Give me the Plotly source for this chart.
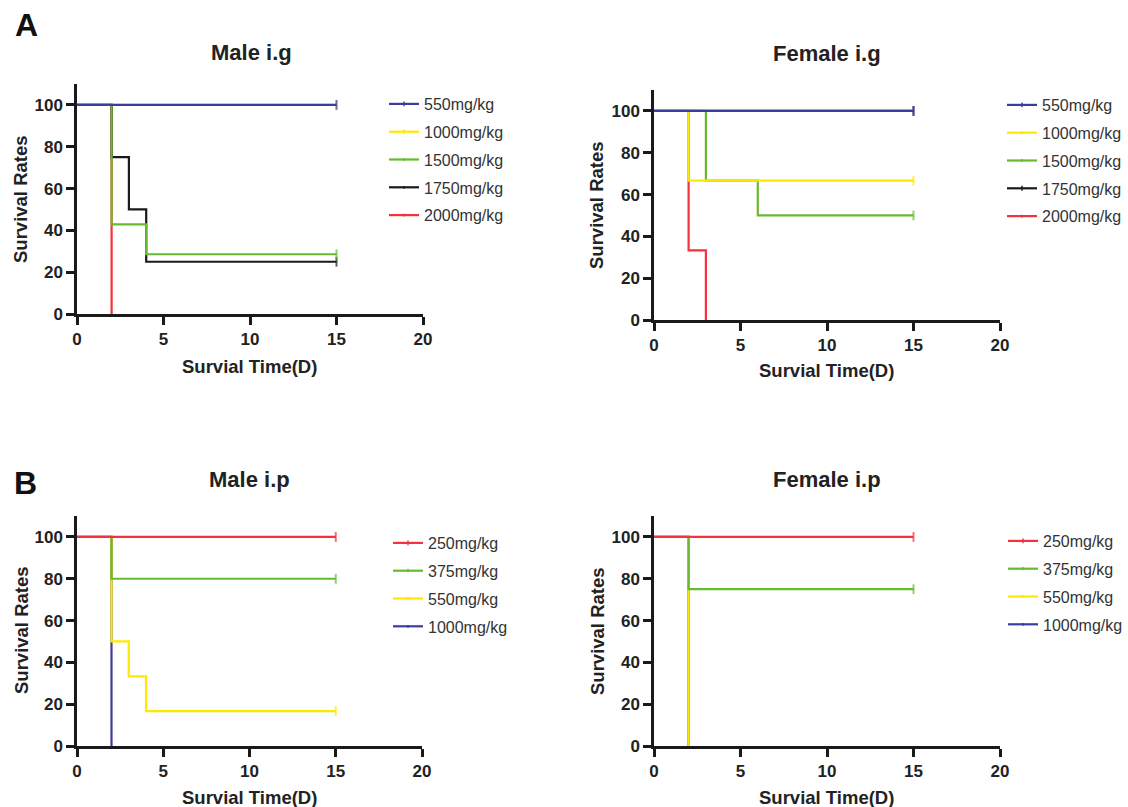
import plotly.graph_objects as go

# ---------------- data ----------------
# Male i.g
male_ig_doses = ["550mg/kg", "1000mg/kg", "1500mg/kg", "1750mg/kg", "2000mg/kg"]
male_ig_times = [[0, 15], [0, 15], [0, 2, 4, 15], [0, 2, 3, 4, 15], [0, 2]]
male_ig_surv = [[100, 100], [100, 100], [100, 42.86, 28.57, 28.57], [100, 75, 50, 25, 25], [100, 0]]

# Female i.g
female_ig_doses = ["550mg/kg", "1000mg/kg", "1500mg/kg", "1750mg/kg", "2000mg/kg"]
female_ig_times = [[0, 15], [0, 2, 15], [0, 3, 6, 15], [0, 15], [0, 2, 3]]
female_ig_surv = [[100, 100], [100, 66.67, 66.67], [100, 66.67, 50, 50], [100, 100], [100, 33.33, 0]]

# Male i.p
male_ip_doses = ["250mg/kg", "375mg/kg", "550mg/kg", "1000mg/kg"]
male_ip_times = [[0, 15], [0, 2, 15], [0, 2, 3, 4, 15], [0, 2]]
male_ip_surv = [[100, 100], [100, 80, 80], [100, 50, 33.33, 16.67, 16.67], [100, 0]]

# Female i.p
female_ip_doses = ["250mg/kg", "375mg/kg", "550mg/kg", "1000mg/kg"]
female_ip_times = [[0, 15], [0, 2, 15], [0, 2], [0, 2]]
female_ip_surv = [[100, 100], [100, 75, 75], [100, 0], [100, 0]]

x_ticks = [0, 5, 10, 15, 20]
y_ticks = [0, 20, 40, 60, 80, 100]

# ---------------- style ----------------
W, H = 1128, 807
FONT = "Arial, Liberation Sans, sans-serif"
BLUE, YELLOW, GREEN, BLACK, RED = "#3c3c9e", "#ffe800", "#66bb2e", "#1a1a1a", "#f2323c"
ig_colors = [BLUE, YELLOW, GREEN, BLACK, RED]
ip_colors = [RED, GREEN, YELLOW, BLUE]

# draw order (indices into series lists), last drawn on top
male_ig_order = [4, 3, 2, 1, 0]
female_ig_order = [3, 4, 2, 1, 0]
male_ip_order = [3, 2, 1, 0]
female_ip_order = [3, 2, 1, 0]


def px_x(p):
    return p / W


def px_y(p):
    return 1 - p / H


fig = go.Figure()

panels = [
    (male_ig_doses, male_ig_times, male_ig_surv, ig_colors, male_ig_order, "x", "y", "legend"),
    (female_ig_doses, female_ig_times, female_ig_surv, ig_colors, female_ig_order, "x2", "y2", "legend2"),
    (male_ip_doses, male_ip_times, male_ip_surv, ip_colors, male_ip_order, "x3", "y3", "legend3"),
    (female_ip_doses, female_ip_times, female_ip_surv, ip_colors, female_ip_order, "x4", "y4", "legend4"),
]

for doses, times, survs, colors, order, xa, ya, lg in panels:
    for i in order:
        t, s = times[i], survs[i]
        sizes = [0] * (len(t) - 1) + [7 if s[-1] > 0 else 0]
        fig.add_trace(go.Scatter(
            x=t, y=s, name=doses[i], xaxis=xa, yaxis=ya, legend=lg,
            legendgroup=lg + doses[i], legendrank=i + 1,
            mode="lines+markers", line=dict(color=colors[i], width=2.2, shape="hv"),
            marker=dict(symbol="line-ns", size=sizes, color=colors[i],
                        line=dict(color=colors[i], width=2)),
            cliponaxis=False,
        ))

# axis domains (pixel based)
dom = {
    "x": (77, 423), "y": (314, 84),
    "x2": (654, 1000), "y2": (320, 90),
    "x3": (77, 422), "y3": (746, 516),
    "x4": (654, 1000), "y4": (746, 516),
}

axis_common = dict(showline=True, linewidth=2.5, linecolor="#1a1a1a", ticks="outside",
                   ticklen=8, tickwidth=2.5, tickcolor="#1a1a1a", showgrid=False,
                   zeroline=False, mirror=False,
                   tickfont=dict(family=FONT, size=17, color="#222222", weight="bold"))

layout_axes = {}
for k in ["x", "x2", "x3", "x4"]:
    a, b = dom[k]
    name = "xaxis" if k == "x" else "xaxis" + k[1:]
    yname = "y" if k == "x" else "y" + k[1:]
    layout_axes[name] = dict(domain=[px_x(a), px_x(b)], range=[0, 20], tickvals=x_ticks,
                             anchor=yname, **axis_common)
for k in ["y", "y2", "y3", "y4"]:
    a, b = dom[k]
    name = "yaxis" if k == "y" else "yaxis" + k[1:]
    xname = "x" if k == "y" else "x" + k[1:]
    layout_axes[name] = dict(domain=[px_y(a), px_y(b)], range=[0, 110], tickvals=y_ticks,
                             anchor=xname, **axis_common)

legend_common = dict(font=dict(family=FONT, size=16, color="#333333"), bgcolor="rgba(0,0,0,0)",
                     xanchor="left", yanchor="top", tracegroupgap=4, itemclick=False)

fig.update_layout(
    width=W, height=H, margin=dict(l=0, r=0, t=0, b=0, autoexpand=False),
    paper_bgcolor="white", plot_bgcolor="white",
    font=dict(family=FONT, color="#222222"),
    legend=dict(x=px_x(384), y=px_y(87), **legend_common),
    legend2=dict(x=px_x(1002), y=px_y(88), **legend_common),
    legend3=dict(x=px_x(388), y=px_y(526), **legend_common),
    legend4=dict(x=px_x(1003), y=px_y(524), **legend_common),
    **layout_axes,
)

annotations = []
# panel letters
for txt, x, y in [("A", 26, 25), ("B", 25, 483)]:
    annotations.append(dict(text=txt, x=px_x(x), y=px_y(y), xref="paper", yref="paper",
                            showarrow=False, xanchor="center", yanchor="middle",
                            font=dict(family=FONT, size=32, color="#111111", weight="bold")))
# subplot titles
for txt, x, y in [("Male i.g", 251, 53), ("Female i.g", 827, 54),
                  ("Male i.p", 250, 479), ("Female i.p", 827, 479)]:
    annotations.append(dict(text=txt, x=px_x(x), y=px_y(y), xref="paper", yref="paper",
                            showarrow=False, xanchor="center", yanchor="middle",
                            font=dict(family=FONT, size=22, color="#222222", weight="bold")))
# x axis titles
for x, y in [(250, 367), (826, 370), (250, 797), (826, 797)]:
    annotations.append(dict(text="Survial Time(D)", x=px_x(x), y=px_y(y), xref="paper", yref="paper",
                            showarrow=False, xanchor="center", yanchor="middle",
                            font=dict(family=FONT, size=18.5, color="#222222", weight="bold")))
# y axis titles
for x, y in [(21, 199), (597, 205), (21, 630), (597, 631)]:
    annotations.append(dict(text="Survival Rates", x=px_x(x), y=px_y(y), xref="paper", yref="paper",
                            showarrow=False, xanchor="center", yanchor="middle", textangle=-90,
                            font=dict(family=FONT, size=18.5, color="#222222", weight="bold")))

fig.update_layout(annotations=annotations)

fig.write_html("out.html", config={"displayModeBar": False},
               post_script="document.body.style.margin='0';document.body.style.padding='0';")
